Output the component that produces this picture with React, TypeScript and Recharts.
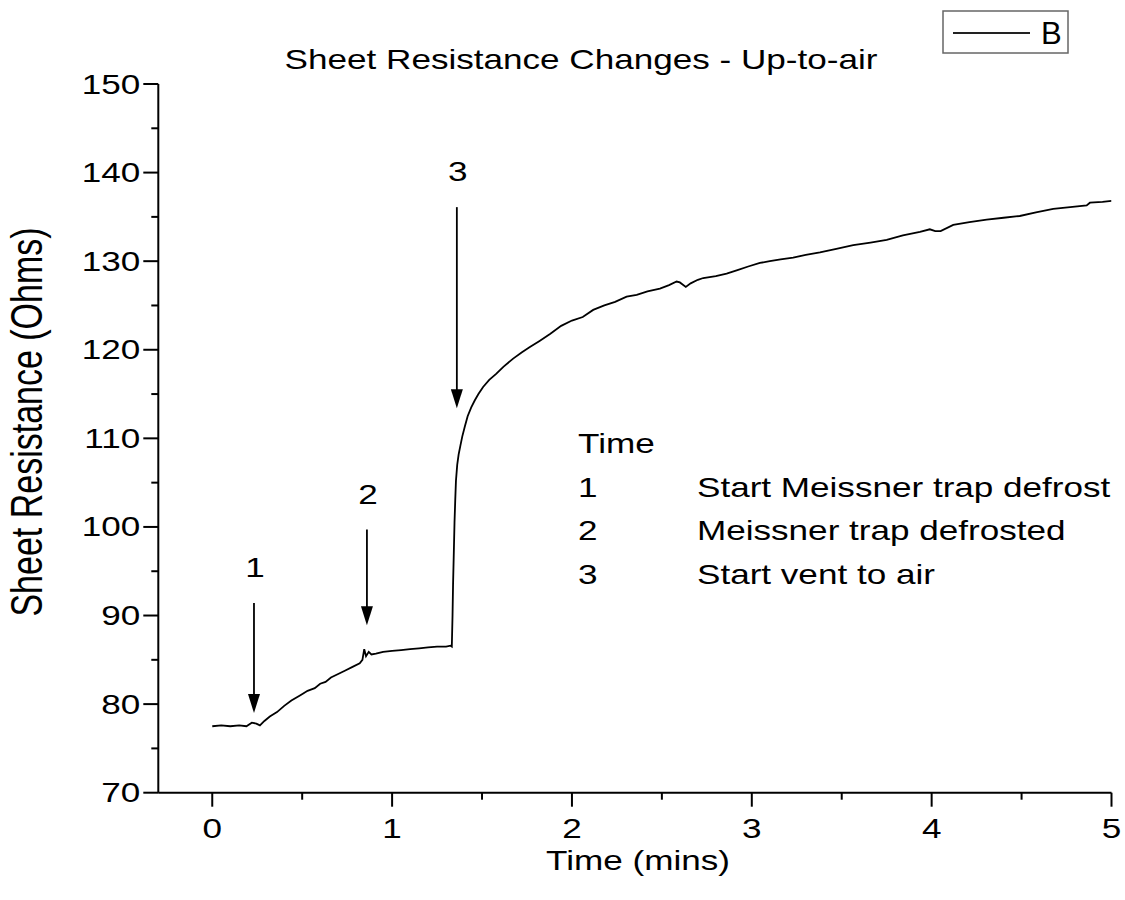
import React from 'react';
import { LineChart, Line, XAxis, YAxis, ReferenceLine, Customized } from 'recharts';

// Sheet resistance trace (time in minutes, resistance in ohms)
const timeMins = [
  0.0, 0.05, 0.1, 0.15, 0.19, 0.22, 0.245, 0.265, 0.29, 0.32,
  0.36, 0.4, 0.44, 0.49, 0.53, 0.57, 0.6, 0.63, 0.66, 0.7,
  0.74, 0.78, 0.82, 0.835, 0.845, 0.855, 0.87, 0.885, 0.91, 0.95,
  1.0, 1.05, 1.1, 1.15, 1.2, 1.25, 1.3, 1.325, 1.332, 1.336,
  1.339, 1.343, 1.347, 1.351, 1.355, 1.362, 1.37, 1.38, 1.39, 1.404,
  1.42, 1.44, 1.46, 1.48, 1.506, 1.54, 1.58, 1.62, 1.673, 1.72,
  1.766, 1.82, 1.88, 1.94, 2.0, 2.06, 2.118, 2.18, 2.24, 2.304,
  2.36, 2.42, 2.489, 2.54, 2.582, 2.6, 2.633, 2.66, 2.7, 2.73,
  2.8, 2.86, 2.92, 2.98, 3.045, 3.1, 3.16, 3.23, 3.3, 3.379,
  3.47, 3.564, 3.66, 3.75, 3.84, 3.935, 3.99, 4.02, 4.05, 4.12,
  4.21, 4.306, 4.4, 4.49, 4.58, 4.676, 4.77, 4.862, 4.88, 4.95, 5.0,
];
const resistance = [
  77.5, 77.6, 77.5, 77.6, 77.5, 77.9, 77.8, 77.6, 78.1, 78.6,
  79.1, 79.8, 80.4, 81.0, 81.5, 81.8, 82.3, 82.5, 83.0, 83.4,
  83.8, 84.2, 84.6, 85.0, 86.2, 85.4, 85.9, 85.6, 85.7, 85.9,
  86.0, 86.1, 86.2, 86.3, 86.4, 86.5, 86.5, 86.6, 86.5, 90.0,
  93.6, 97.0, 100.5, 103.0, 105.2, 107.0, 108.2, 109.2, 110.2, 111.3,
  112.5, 113.5, 114.3, 115.0, 115.8, 116.6, 117.3, 118.1, 119.0, 119.7,
  120.3, 121.0, 121.8, 122.7, 123.3, 123.7, 124.5, 125.0, 125.4, 126.0,
  126.2, 126.6, 126.9, 127.3, 127.7, 127.6, 127.1, 127.5, 127.9, 128.1,
  128.3, 128.6, 129.0, 129.4, 129.8, 130.0, 130.2, 130.4, 130.7, 131.0,
  131.4, 131.8, 132.1, 132.4, 132.9, 133.3, 133.6, 133.4, 133.4, 134.1,
  134.4, 134.7, 134.9, 135.1, 135.5, 135.9, 136.1, 136.3, 136.6, 136.7, 136.8,
];

const xTicks = [0, 0.5, 1, 1.5, 2, 2.5, 3, 3.5, 4, 4.5, 5];
const yTicks = [70, 75, 80, 85, 90, 95, 100, 105, 110, 115, 120, 125, 130, 135, 140, 145, 150];

// Event markers: arrow drawn from top value down to tip value
const eventIds = ['1', '2', '3'];
const eventTimes = [0.232, 0.86, 1.36];
const arrowTops = [91.4, 99.7, 136.1];
const arrowTips = [79.0, 88.9, 113.4];
const eventNotes = ['Start Meissner trap defrost', 'Meissner trap defrosted', 'Start vent to air'];

const seriesName = 'B';
const chartTitle = 'Sheet Resistance Changes - Up-to-air';
const xTitle = 'Time (mins)';
const yTitle = 'Sheet Resistance (Ohms)';

const data = timeMins.map((t, i) => ({ t, r: resistance[i] }));

const FONT = 'Arial, "Liberation Sans", Helvetica, sans-serif';
const SX = 1.3; // glyphs in this figure are drawn wide
const TICK = 15;
const MARGIN = 4;

const Wide = ({ x, y, size = 27, anchor = 'start', children }: any) => (
  <text
    transform={`translate(${x},${y}) scale(${SX},1)`}
    textAnchor={anchor}
    fontFamily={FONT}
    fontSize={size}
    fill="#000"
  >
    {children}
  </text>
);

const YTick = (props: any) => {
  const { x, y, payload } = props;
  const major = payload.value % 10 === 0;
  const axisX = x + TICK + MARGIN;
  return (
    <g>
      <line x1={axisX - (major ? TICK : 7)} x2={axisX} y1={y} y2={y} stroke="#000" strokeWidth={2} />
      {major && <Wide x={axisX - 18} y={y + 9.5} anchor="end">{payload.value}</Wide>}
    </g>
  );
};

const XTick = (props: any) => {
  const { x, y, payload } = props;
  const major = Number.isInteger(payload.value);
  const axisY = y - TICK - MARGIN;
  return (
    <g>
      <line x1={x} x2={x} y1={axisY} y2={axisY + (major ? 14 : 7)} stroke="#000" strokeWidth={2} />
      {major && <Wide x={x} y={axisY + 45.5} anchor="middle">{payload.value}</Wide>}
    </g>
  );
};

const arrowShape = (id: string) => (props: any) => {
  const { x1, y1, x2, y2 } = props;
  const head = 19;
  return (
    <g>
      <line x1={x1} y1={y1} x2={x2} y2={y2 - head + 1} stroke="#000" strokeWidth={1.8} />
      <polygon points={`${x2 - 6},${y2 - head} ${x2 + 6},${y2 - head} ${x2},${y2}`} fill="#000" />
      <Wide x={x1 + 1} y={y1 - 26} anchor="middle">{id}</Wide>
    </g>
  );
};

const Annotations = () => (
  <g>
    <Wide x={581} y={69} anchor="middle">{chartTitle}</Wide>
    <Wide x={638} y={870} anchor="middle">{xTitle}</Wide>
    <text
      transform={`translate(42,422) scale(${SX},1) rotate(-90)`}
      textAnchor="middle"
      fontFamily={FONT}
      fontSize={34}
      fill="#000"
    >
      {yTitle}
    </text>

    {/* event key */}
    <Wide x={578} y={453}>Time</Wide>
    {eventIds.map((id, i) => (
      <g key={id}>
        <Wide x={578} y={497 + i * 43.3}>{id}</Wide>
        <Wide x={697} y={497 + i * 43.3}>{eventNotes[i]}</Wide>
      </g>
    ))}

    {/* legend box */}
    <rect x={943} y={11} width={125} height={42} fill="#fff" stroke="#666" strokeWidth={1.5} />
    <line x1={953} x2={1030} y1={33} y2={33} stroke="#222" strokeWidth={2} />
    <text x={1041} y={44} fontFamily={FONT} fontSize={31} fill="#000">{seriesName}</text>
  </g>
);

export default function App() {
  return (
    <div style={{ position: 'absolute', left: 0, top: 0, width: 1125, height: 900, background: '#fff' }}>
      <LineChart width={1125} height={900} data={data} margin={{ top: 84, right: 13.5, left: 0, bottom: 0 }}>
        <XAxis
          dataKey="t"
          type="number"
          domain={[-0.3, 5]}
          ticks={xTicks}
          interval={0}
          height={107.3}
          tickSize={TICK}
          tickMargin={MARGIN}
          tickLine={false}
          axisLine={{ stroke: '#000', strokeWidth: 2 }}
          tick={<XTick />}
          allowDataOverflow
        />
        <YAxis
          type="number"
          domain={[70, 150]}
          ticks={yTicks}
          interval={0}
          width={158.3}
          tickSize={TICK}
          tickMargin={MARGIN}
          tickLine={false}
          axisLine={{ stroke: '#000', strokeWidth: 2 }}
          tick={<YTick />}
          allowDataOverflow
        />
        {eventIds.map((id, i) => (
          <ReferenceLine
            key={id}
            segment={[
              { x: eventTimes[i], y: arrowTops[i] },
              { x: eventTimes[i], y: arrowTips[i] },
            ]}
            shape={arrowShape(id)}
          />
        ))}
        <Line
          dataKey="r"
          name={seriesName}
          type="linear"
          stroke="#000"
          strokeWidth={1.8}
          dot={false}
          isAnimationActive={false}
        />
        <Customized component={<Annotations />} />
      </LineChart>
    </div>
  );
}
